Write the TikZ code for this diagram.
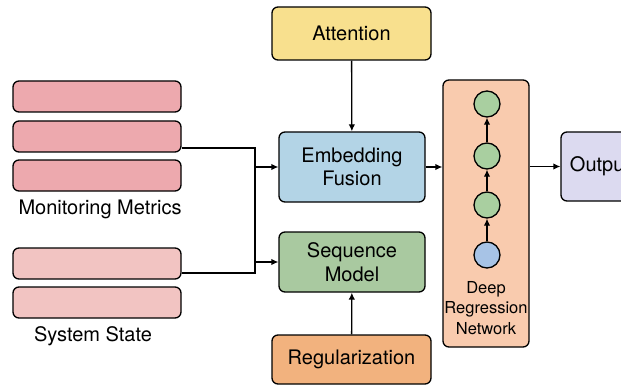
\documentclass[tikz,border=0pt]{standalone}
\usepackage{fontspec}
\setmainfont{TeX Gyre Heros}
\usepackage{xcolor}
\usetikzlibrary{arrows.meta}
\usetikzlibrary{positioning}

\definecolor{metricpink}{HTML}{EDA9AE}
\definecolor{statepink}{HTML}{F2C4C2}
\definecolor{attnyellow}{HTML}{F8E08E}
\definecolor{embblue}{HTML}{B3D4E6}
\definecolor{seqgreen}{HTML}{A9C9A0}
\definecolor{regorange}{HTML}{F2B27E}
\definecolor{netpeach}{HTML}{F9CBAE}
\definecolor{unitgreen}{HTML}{A9CFA0}
\definecolor{unitblue}{HTML}{A7C3E6}
\definecolor{outlilac}{HTML}{DCDAF0}

\begin{document}
\begin{tikzpicture}[
    x=1pt, y=-1pt,
    line width=1.3pt,
    >={Latex[length=7pt,width=6.5pt]}]
    \tikzstyle{block}=[draw,rounded corners=6pt,align=center,inner sep=0pt,
      font=\fontsize{20}{23.5}\selectfont]
    \tikzstyle{row}=[draw,rounded corners=6pt,minimum width=168pt,minimum height=31pt]
    \tikzstyle{unit}=[draw,circle,fill=unitgreen,minimum size=26pt,inner sep=0pt]
    \tikzstyle{caption}=[font=\fontsize{20}{23.5}\selectfont]
    \useasboundingbox (0,0) rectangle (621,385);
    \clip (0,0) rectangle (621,385);

    % input rows
    \node[row,fill=metricpink] (m1) at (97,96.5) {};
    \node[row,fill=metricpink] (m2) at (97,136.5) {};
    \node[row,fill=metricpink] (m3) at (97,175.5) {};
    \node[caption] (mlabel) at (100,209) {Monitoring Metrics};
    \node[row,fill=statepink] (s1) at (97,263.5) {};
    \node[row,fill=statepink] (s2) at (97,302.5) {};
    \node[caption] (slabel) at (93,336) {System State};

    % middle column
    \node[block,fill=attnyellow,minimum width=159pt,minimum height=53pt] (attn) at (351.5,33.5) {Attention};
    \node[block,fill=embblue,minimum width=146pt,minimum height=70pt] (emb) at (352,167) {Embedding\\Fusion};
    \node[block,fill=seqgreen,minimum width=146pt,minimum height=60pt] (seq) at (352,262) {Sequence\\Model};
    \node[block,fill=regorange,minimum width=159pt,minimum height=49pt] (reg) at (351.5,359.5) {Regularization};

    % regression network
    \node[draw,rounded corners=6pt,fill=netpeach,minimum width=86pt,minimum height=267pt] (drn) at (486,213.5) {};
    \node[unit] (u1) at (487,104) {};
    \node[unit] (u2) at (487,156) {};
    \node[unit] (u3) at (487,205) {};
    \node[unit,fill=unitblue] (u4) at (487,255) {};
    \node[align=center,font=\fontsize{16.5}{20.5}\selectfont] (dlabel) at (486,308) {Deep\\Regression\\Network};

    \node[block,fill=outlilac,minimum width=78pt,minimum height=69pt] (out) at (600,166.5) {Output};

    % wiring
    \coordinate (bustop) at (255,148);
    \coordinate (busbot) at (255,273);
    \draw (m2.east |- bustop) -- (bustop) -- (busbot) -- (s1.east |- busbot);
    \draw[->] (bustop |- emb.west) -- (emb.west);
    \draw[->] (bustop |- 0,262) -- (seq.west);
    \draw[->] (attn) -- (emb);
    \draw[->] (reg) -- (seq);
    \draw[->] (emb.east) -- (drn.west |- emb.east);
    \draw[->] (drn.east |- out.west) -- (out.west);
    \draw[->] (u4) -- (u3);
    \draw[->] (u3) -- (u2);
    \draw[->] (u2) -- (u1);
\end{tikzpicture}
\end{document}
